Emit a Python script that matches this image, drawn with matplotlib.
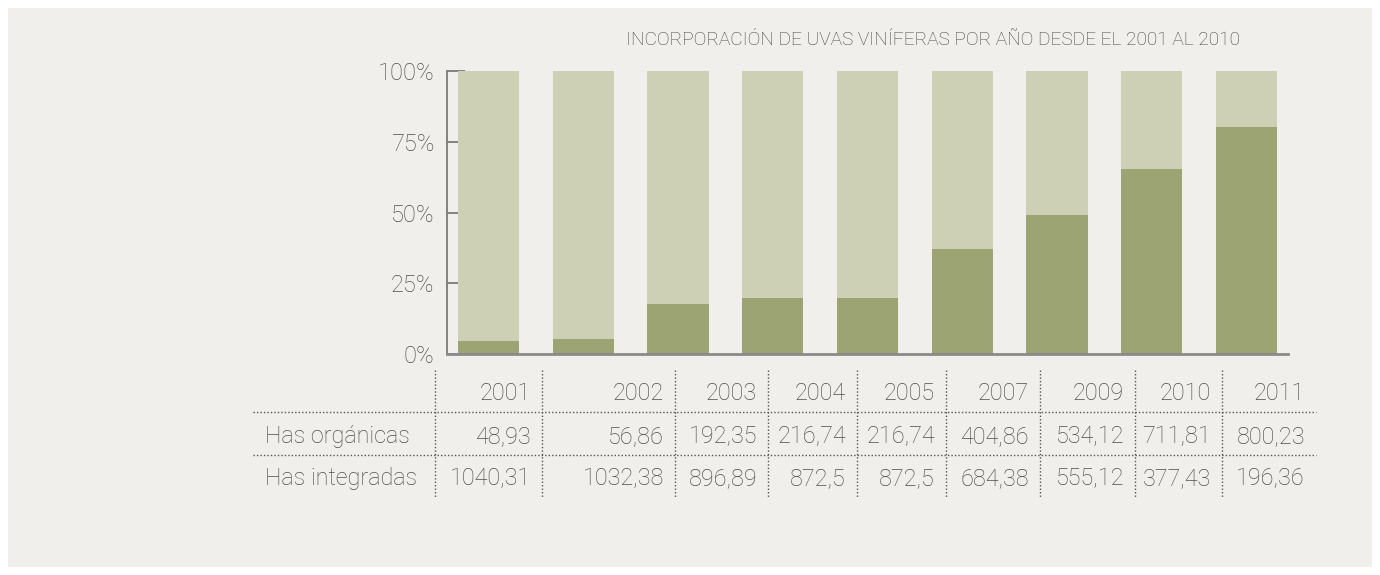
import numpy as np
import matplotlib
matplotlib.use('Agg')
import matplotlib.pyplot as plt
from matplotlib.lines import Line2D
from matplotlib.patches import Rectangle

plt.rcParams['font.family'] = ['Roboto', 'DejaVu Sans']

years = ['2001', '2002', '2003', '2004', '2005', '2007', '2009', '2010', '2011']
organicas = [48.93, 56.86, 192.35, 216.74, 216.74, 404.86, 534.12, 711.81, 800.23]
integradas = [1040.31, 1032.38, 896.89, 872.5, 872.5, 684.38, 555.12, 377.43, 196.36]
row_labels = ['Has orgánicas', 'Has integradas']
title = 'INCORPORACIÓN DE UVAS VINÍFERAS POR AÑO DESDE EL 2001 AL 2010'

org = np.array(organicas)
intg = np.array(integradas)
pct_org = org / (org + intg) * 100
pct_int = 100 - pct_org

W, H = 1380, 575
bg = '#f0efeb'
light = '#cdd0b4'
dark = '#9ca473'
txt = '#4e4e4e'
fw = 'light'

fig = plt.figure(figsize=(W / 100, H / 100), dpi=100, facecolor='white')

def fx(px):
    return px / W

def fy(py):
    return 1 - py / H

# background panel
fig.patches.append(Rectangle((fx(8), fy(567)), fx(1364), (559) / H,
                             transform=fig.transFigure, facecolor=bg,
                             edgecolor='none', zorder=-10))

ax = fig.add_axes([fx(447), fy(354), fx(1288) - fx(447), (354 - 71) / H])
ax.set_facecolor('none')
x = np.arange(len(years))
ax.bar(x, pct_org, width=0.644, color=dark, zorder=2)
ax.bar(x, pct_int, bottom=pct_org, width=0.644, color=light, zorder=2)

ax.set_xlim(-0.438, len(years) - 1 + 0.438)
ax.set_ylim(0, 100)
ax.set_yticks([0, 25, 50, 75, 100])
ax.set_yticklabels(['0%', '25%', '50%', '75%', '100%'])
ax.set_xticks([])
for s in ['top', 'right']:
    ax.spines[s].set_visible(False)
ax.spines['left'].set_color('#7a7a7a')
ax.spines['left'].set_linewidth(1.3)
ax.spines['bottom'].set_color('#8a8a8a')
ax.spines['bottom'].set_linewidth(2)
ax.tick_params(axis='y', direction='in', length=13, width=1.3, color='#7a7a7a',
               pad=9, labelsize=17, labelcolor=txt)
for lab in ax.get_yticklabels():
    lab.set_fontweight(fw)

fig.text(fx(933), fy(40), title, ha='center', va='center', fontsize=13.8,
         color='#444444', fontweight=fw)

# table below the chart
vlines = [435, 542, 675, 768, 857, 946, 1040, 1135, 1222]
col_right = vlines[1:] + [1316]
row_y = [393, 437, 479]
dot = dict(color='#555555', linewidth=1, linestyle=(0, (1, 1.5)),
           transform=fig.transFigure)
for vx in vlines:
    fig.add_artist(Line2D([fx(vx), fx(vx)], [fy(370), fy(497)], **dot))
for hy in [412, 455]:
    fig.add_artist(Line2D([fx(253), fx(1316)], [fy(hy), fy(hy)], **dot))

tsize = 16.8
tkw = dict(ha='right', va='center', fontsize=tsize, color=txt, fontweight=fw)
for i, yr in enumerate(years):
    xr = fx(col_right[i] - 11)
    fig.text(xr, fy(row_y[0]), yr, **tkw)
    fig.text(xr, fy(row_y[1]), f'{organicas[i]:g}'.replace('.', ','), **tkw)
    fig.text(xr, fy(row_y[2]), f'{integradas[i]:g}'.replace('.', ','), **tkw)
for j, lab in enumerate(row_labels):
    fig.text(fx(265), fy(row_y[j + 1]), lab, ha='left', va='center',
             fontsize=tsize, color=txt, fontweight=fw)

fig.savefig('out.png', dpi=100, facecolor='white')
